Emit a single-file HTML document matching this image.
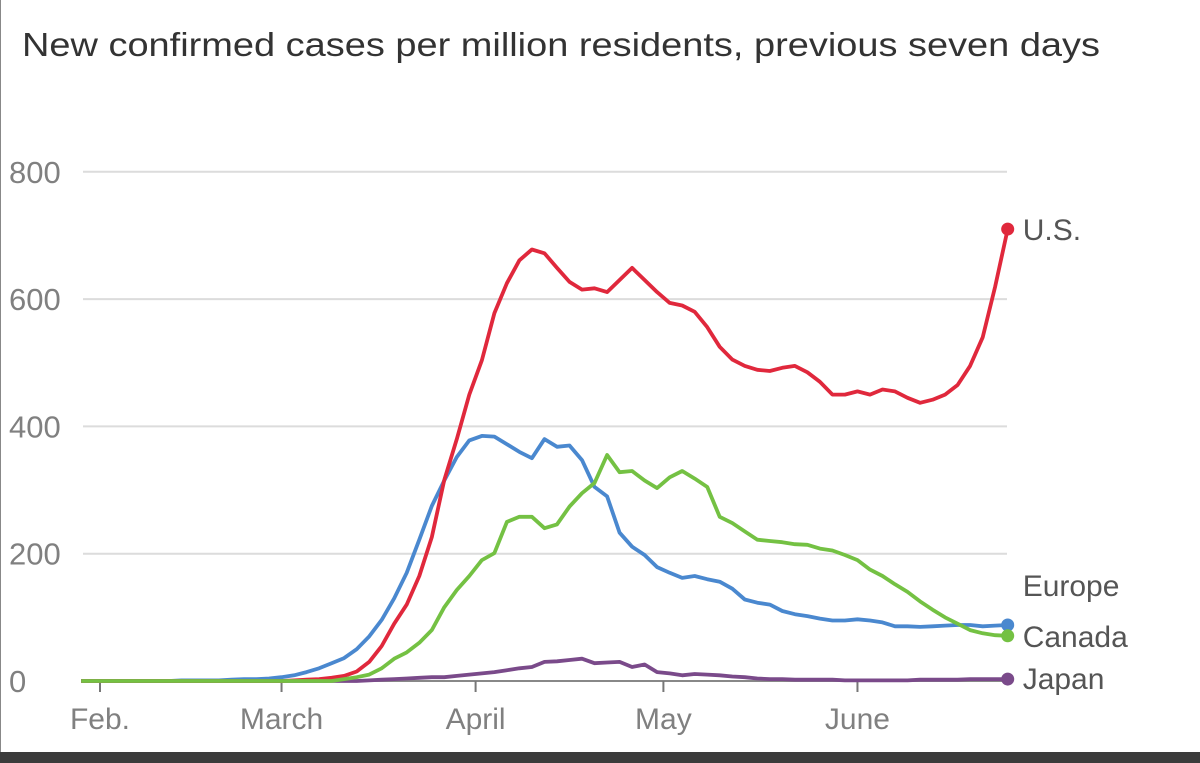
<!DOCTYPE html>
<html><head><meta charset="utf-8">
<style>
html,body{margin:0;padding:0;background:#fff;}
body{width:1200px;height:763px;overflow:hidden;position:relative;font-family:"Liberation Sans",sans-serif;}
#frame{position:absolute;left:0;top:0;width:1px;height:752px;background:#888;}
#bottom-bar{position:absolute;left:0;top:752px;width:1200px;height:11px;background:#3b3b3b;}
</style></head>
<body>
<div id="frame"></div>
<svg id="chart" width="1200" height="752" style="position:absolute;left:0;top:0">
<text x="22" y="56" font-size="33" fill="#333" textLength="1078" lengthAdjust="spacingAndGlyphs" font-family="Liberation Sans, sans-serif">New confirmed cases per million residents, previous seven days</text>
<g id="grid"></g><g id="lines"></g><g id="labels"></g>
</svg>
<div id="bottom-bar"></div>
<script>
const yTicks=[0,200,400,600,800];
const monthLabels=["Feb.","March","April","May","June"];
const monthDays=[0,29,60,90,121];
const startDay=-3, stepDays=2;
const seriesNames=["U.S.","Europe","Canada","Japan"];
const usValues=[0,0,0,0,0,0,0,0,0,0,0,0,0,0,0,0,0,1,2,3,5,8,15,30,55,90,120,165,226,316,380,450,504,578,625,661,678,672,649,627,615,617,611,630,649,630,611,594,590,580,556,525,505,495,489,487,492,495,485,470,450,450,455,450,458,455,445,437,442,450,465,495,540,620,710];
const europeValues=[0,0,0,0,0,0,0,0,1,1,1,1,2,3,3,4,6,9,14,20,28,36,50,70,96,130,170,222,275,315,352,378,385,384,372,360,350,380,368,370,347,305,290,233,211,198,179,170,162,165,160,156,145,128,123,120,110,105,102,98,95,95,97,95,92,86,86,85,86,87,88,88,86,87,88];
const canadaValues=[0,0,0,0,0,0,0,0,0,0,0,0,0,0,0,0,0,0,0,0,0,3,6,10,20,35,45,60,80,116,143,165,190,201,250,258,258,240,246,274,295,311,355,328,330,315,303,320,330,318,305,258,248,235,222,220,218,215,214,208,205,198,190,175,165,152,140,125,112,100,90,80,75,72,71];
const japanValues=[0,0,0,0,0,0,0,0,0,0,0,0,0,0,0,0,0,0,0,0,0,0,0,1,2,3,4,5,6,6,8,10,12,14,17,20,22,30,31,33,35,28,29,30,22,26,14,12,9,11,10,9,7,6,4,3,3,2,2,2,2,1,1,1,1,1,1,2,2,2,2,3,3,3,3];
const colors=["#e0283c","#4a88cf","#74c143","#7a4a8a"];
const labelOffsets=[0,-40,0,-1];

const NS="http://www.w3.org/2000/svg";
const X0=100, PXD=6.26, Y0=681, PXV=0.6365, XL=83, XR=1007;
const x=d=>X0+d*PXD, y=v=>Y0-v*PXV;
function mk(tag,attrs,parent){const e=document.createElementNS(NS,tag);for(const k in attrs)e.setAttribute(k,attrs[k]);parent.appendChild(e);return e;}
const grid=document.getElementById('grid'),lines=document.getElementById('lines'),labels=document.getElementById('labels');
yTicks.forEach(t=>{
  if(t>0){const g=mk('line',{x1:XL,x2:XR,y1:y(t),y2:y(t),stroke:'#dcdcdc','stroke-width':2},grid);
  
  }
  const tx=mk('text',{x:9,y:y(t)+11,'font-size':31,fill:'#808080'},labels);tx.textContent=t;
  
  
});
const ax=mk('line',{x1:XL,x2:XR,y1:Y0,y2:Y0,stroke:'#888','stroke-width':2},grid);


monthLabels.forEach((m,i)=>{
  const tk=mk('line',{x1:x(monthDays[i]),x2:x(monthDays[i]),y1:Y0,y2:Y0+11,stroke:'#777','stroke-width':2},grid);
  
  
  const t=mk('text',{x:x(monthDays[i]),y:Y0+48,'font-size':30,fill:'#808080','text-anchor':'middle'},labels);t.textContent=m;
  
  
});
const all=[usValues,europeValues,canadaValues,japanValues];
const order=[3,1,0,2];
order.forEach(s=>{
  const vals=all[s];
  const pts=vals.map((v,i)=>x(startDay+i*stepDays).toFixed(1)+','+y(v).toFixed(1)).join(' ');
  const p=mk('polyline',{points:pts,fill:'none',stroke:colors[s],'stroke-width':3.8,'stroke-linejoin':'round'},lines);
  
  
});
all.forEach((vals,s)=>{
  const lastX=x(startDay+(vals.length-1)*stepDays), lastY=y(vals[vals.length-1]);
  const c=mk('circle',{cx:lastX,cy:lastY,r:6.5,fill:colors[s]},lines);
  
  
  const t=mk('text',{x:lastX+15,y:lastY+11+labelOffsets[s],'font-size':30,fill:'#555'},labels);t.textContent=seriesNames[s];
  
  
});
</script>
</body></html>
